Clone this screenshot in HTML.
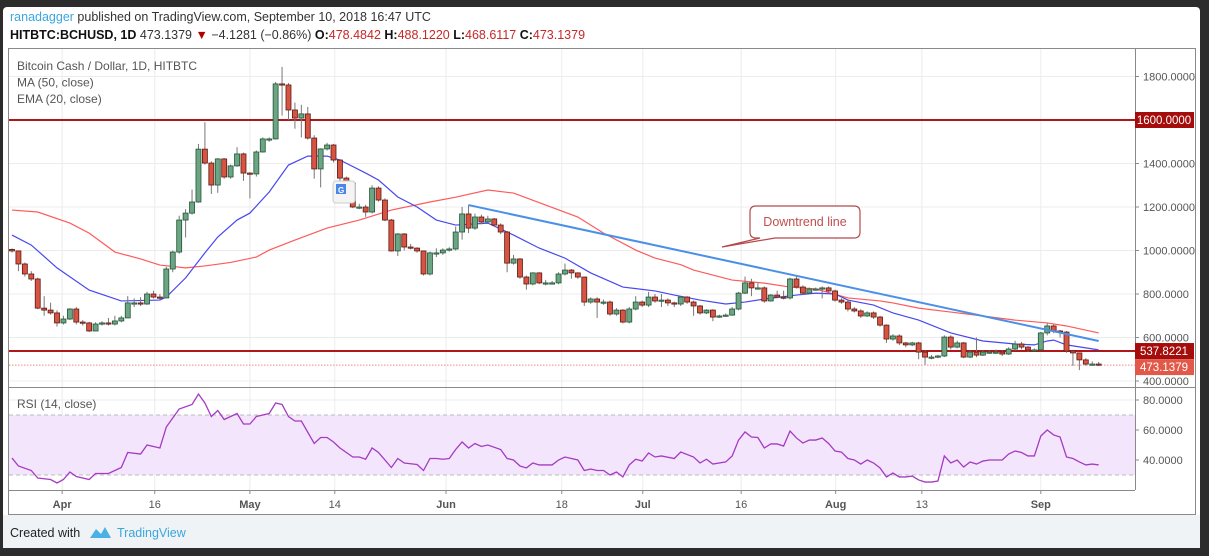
<!DOCTYPE html>
<html><head><meta charset="utf-8">
<style>
html,body{margin:0;padding:0;background:#2c2c2c;width:1209px;height:556px;overflow:hidden;font-family:"Liberation Sans",sans-serif;}
#card{position:absolute;left:3px;top:7px;width:1197px;height:541px;background:#fff;border-radius:4px 4px 0 0;}
#footer{position:absolute;left:3px;top:515px;width:1197px;height:33px;background:#f0f3f6;}
svg{position:absolute;left:0;top:0;}
text{font-family:"Liberation Sans",sans-serif;}
</style></head>
<body>
<div id="card"></div>
<div id="footer"></div>
<svg id="chart" width="1209" height="556"></svg>
<script>
const closes=[998,938,892,869,735,726,713,667,685,731,671,667,630,662,667,662,676,690,759,759,754,800,786,782,915,993,1140,1172,1223,1466,1402,1301,1421,1338,1389,1444,
1356,1352,1453,1513,1513,1766,1761,1646,1609,1628,1517,1375,1467,1485,1416,1333,1310,1200,1200,1177,1287,1232,1140,998,1076,1016,1011,998,892,989,989,1002,1007,1085,
1168,1103,1154,1131,1145,1117,1085,942,961,878,846,897,851,851,851,892,910,897,878,763,777,763,763,708,726,671,731,763,749,786,768,772,759,754,
786,763,745,713,726,694,699,703,731,804,851,828,828,768,795,786,782,869,832,804,823,823,828,814,772,763,731,722,699,713,694,657,593,607,575,
566,575,533,510,510,515,602,556,575,510,533,519,533,533,533,524,547,570,556,543,543,621,653,630,625,538,529,497,478,478,473];
const firstOpen=1005;
const highs=[1010,1000,945,905,875,790,760,725,700,735,740,680,672,670,675,690,700,700,790,780,785,810,815,800,925,1000,1160,1190,1280,1490,1590,1410,1425,1425,1395,1475,
1450,1360,1460,1520,1520,1775,1844,1770,1680,1670,1660,1530,1470,1495,1490,1420,1340,1320,1215,1210,1300,1295,1240,1145,1080,1080,1030,1015,1000,995,1010,1010,1015,1110,
1200,1210,1170,1165,1160,1150,1125,1090,980,965,885,900,900,865,860,900,940,915,900,880,785,785,775,770,735,730,740,790,770,810,800,800,780,765,
790,790,770,750,730,730,705,710,740,810,880,870,850,835,800,815,815,875,880,840,830,830,835,835,820,780,770,740,730,720,720,700,660,615,615,
580,580,580,540,520,520,610,610,585,580,540,600,540,540,545,540,555,585,580,560,550,625,665,660,635,630,540,530,505,490,488];
const lows=[990,905,880,860,730,700,705,650,660,680,660,655,625,628,655,655,655,670,690,740,745,750,780,775,780,900,985,1060,1165,1220,1395,1260,1265,1330,1330,1385,
1320,1240,1340,1450,1500,1510,1620,1600,1560,1520,1510,1330,1290,1460,1405,1320,1300,1195,1190,1155,1170,1225,1135,995,975,1000,1005,990,885,885,970,980,995,1000,
1050,1080,1095,1120,1125,1110,1075,900,935,870,820,840,845,840,845,845,885,870,870,745,755,690,750,700,700,665,665,725,740,740,760,740,745,740,
745,755,700,705,708,675,690,695,700,725,800,790,820,760,765,780,775,775,825,795,800,815,780,800,765,755,720,715,690,695,685,650,575,585,565,
555,560,500,475,500,505,510,545,550,505,505,510,515,525,525,515,520,540,545,535,535,540,610,620,600,530,470,450,470,470,469];
const emaIdx=[0,3,7,12,17,23,24,27,30,32,35,37,40,43,46,49,51,55,57,60,63,66,69,74,78,82,86,90,95,100,103,107,111,114,117,122,125,128,130,134,137,141,146,151,156,159,161,162,164,169];
const emaVals=[1071,1025,920,818,768,772,786,874,989,1062,1140,1172,1269,1393,1434,1434,1416,1356,1324,1246,1200,1140,1117,1126,1071,1011,965,897,832,814,795,772,754,763,777,795,804,800,772,749,713,680,621,584,570,566,584,588,566,543];
const maIdx=[0,4,9,12,16,20,23,27,30,34,38,40,44,49,54,59,65,69,74,78,83,88,92,97,100,104,106,112,117,121,125,130,135,137,141,146,151,156,161,164,169];
const maVals=[1186,1177,1126,1080,993,961,933,920,929,945,970,1002,1048,1103,1140,1186,1223,1245,1278,1264,1209,1154,1080,1002,965,935,910,864,850,832,823,782,768,759,735,717,699,680,667,653,621];
const trendIdx=[71,169];
const trendVals=[1209,584];
const rsiIdx=[0,1,3,4,6,7,8,9,10,12,13,15,17,18,20,21,23,24,25,26,28,29,30,31,32,33,35,36,37,38,40,41,42,43,44,45,47,48,49,50,51,52,53,54,55,56,57,59,60,61,63,64,65,66,67,68,69,70,71,72,73,74,76,77,78,79,80,81,82,84,85,86,88,89,90,
91,92,93,94,95,96,97,98,99,100,101,103,104,106,107,108,109,111,112,113,114,115,116,117,118,119,120,121,122,123,124,125,126,127,128,129,130,131,132,133,134,135,136,137,138,139,140,141,142,143,144,145,146,147,148,149,150,151,152,154,155,156,157,158,159,160,161,162,163,164,165,166,167,168,169];
const rsiVals=[41.3,36,33,28,27,24.7,27,32,29,27,31,31,35,45,44,50,48,62,68,74,77,84,78,69,73,67,71,64,64,69,71,78,77,69,66,66,51,55,55,52,48,45,42,42,40.5,48,45,35,41,38,37,33,41,41,40.5,41,47,52,48,51,49,50,47,41,40,36,34.7,38,36.7,36.7,40,42,40,33,34,
33,33,30,32,28.7,36.7,40.5,39.3,44.7,42,42.7,41,45.3,42,38,40.5,37.3,38.7,42.7,53.3,58.7,55.3,55,48,50.7,50.7,49.3,59.3,54.7,51.3,53.3,53.3,54.7,51,46,45.3,41,40,37.3,40,38,34.7,28.7,31.3,28.7,28.7,29.3,26.7,25.3,25.3,26,42.7,38,40,35.3,38.7,37.3,39.3,40,40,44,46,45,42.7,42.7,56,60,56.7,55.3,42,41,38.7,36.7,37.3,36.7];
const priceTicks=[1800,1400,1200,1000,800,600,400];
const rsiTicks=[80,60,40];
const dateTickDays=[7.8,22.2,37,50.2,67.5,85.5,98.1,113.4,128.1,141.5,160];
const dateTickLabels=["Apr","16","May","14","Jun","18","Jul","16","Aug","13","Sep"];
const dateTickBold=[1,0,1,0,1,0,1,0,1,0,1];
const levels=[1600,537.8221];
const lastPrice=473.1379;

const X0=12, STEP=6.43;
const x=i=>X0+i*STEP;
const y=p=>120+(1600-p)*0.2175;
const ry=v=>400+(80-v)*1.5;
const NS="http://www.w3.org/2000/svg";
const svg=document.getElementById('chart');
function el(tag,attrs,parent){const e=document.createElementNS(NS,tag);for(const k in attrs)e.setAttribute(k,attrs[k]);(parent||svg).appendChild(e);return e;}
function txt(s,attrs,parent){const e=el('text',attrs,parent);e.textContent=s;return e;}

const h1=txt('',{x:10,y:21,'font-size':12.5,fill:'#333'});


const ts1=el('tspan',{fill:'#3aa6dd'},h1);ts1.textContent='ranadagger';
const ts2=el('tspan',{},h1);ts2.textContent=' published on TradingView.com, September 10, 2018 16:47 UTC';
const h2=txt('',{x:10,y:39,'font-size':12.5,fill:'#222'});


[['HITBTC:BCHUSD, 1D','#111','bold'],['  473.1379 ','#333'],['▼','#b00000'],[' −4.1281 (−0.86%) ','#333'],['O:','#111','bold'],['478.4842 ','#c62828'],['H:','#111','bold'],['488.1220 ','#c62828'],['L:','#111','bold'],['468.6117 ','#c62828'],['C:','#111','bold'],['473.1379','#c62828']].forEach(a=>{const t=el('tspan',{fill:a[1]},h2);if(a[2])t.setAttribute('font-weight','bold');t.textContent=a[0];});

const frame=el('rect',{x:8.5,y:48.5,width:1187,height:466,fill:'#fff',stroke:'#8a8a8a'});


const grid=el('g',{stroke:'#ececec','stroke-width':1});


priceTicks.forEach(p=>el('line',{x1:9,x2:1135,y1:y(p),y2:y(p)},grid));
rsiTicks.forEach(v=>el('line',{x1:9,x2:1135,y1:ry(v),y2:ry(v)},grid));
dateTickDays.forEach(d=>el('line',{x1:x(d),x2:x(d),y1:49,y2:490},grid));
el('line',{x1:9,x2:1195,y1:387.5,y2:387.5,stroke:'#8a8a8a'});
el('line',{x1:9,x2:1135,y1:490.5,y2:490.5,stroke:'#8a8a8a'});
el('line',{x1:1135.5,x2:1135.5,y1:49,y2:490,stroke:'#8a8a8a'});

priceTicks.forEach(p=>{
  el('line',{x1:1135,x2:1139,y1:y(p),y2:y(p),stroke:'#8a8a8a'});
  const t=txt(p.toFixed(4),{x:1143,y:y(p)+4,'font-size':11,fill:'#555'});
  
  
});
rsiTicks.forEach(v=>{
  el('line',{x1:1135,x2:1139,y1:ry(v),y2:ry(v),stroke:'#8a8a8a'});
  const t=txt(v.toFixed(4),{x:1143,y:ry(v)+4,'font-size':11,fill:'#555'});
  
  
});
dateTickDays.forEach((d,k)=>{
  el('line',{x1:x(d),x2:x(d),y1:490,y2:494,stroke:'#8a8a8a'});
  const t=txt(dateTickLabels[k],{x:x(d),y:508,'font-size':11,fill:'#555','text-anchor':'middle','font-weight':dateTickBold[k]?'bold':'normal'});
  
  
});

const defs=el('defs',{});
const cp=el('clipPath',{id:'pp'},defs);el('rect',{x:9,y:49,width:1126,height:338},cp);

levels.forEach(L=>{
  const l=el('line',{x1:9,x2:1135,y1:y(L),y2:y(L),stroke:'#b0171a','stroke-width':2});
  
  
});
const lp=el('line',{x1:9,x2:1135,y1:y(lastPrice),y2:y(lastPrice),stroke:'#ef8a7a','stroke-dasharray':'1.5,1.5'});



function poly(idx,vals,color,name,w){
  const p=el('polyline',{points:idx.map((d,k)=>x(d)+','+y(vals[k])).join(' '),fill:'none',stroke:color,'stroke-width':w||1.2,'clip-path':'url(#pp)'});
  
  
}
poly(maIdx,maVals,'#ff5a5a','ma50-line');
poly(emaIdx,emaVals,'#4848f0','ema20-line');

const cg=el('g',{});


closes.forEach((c,i)=>{
  const o=i===0?firstOpen:closes[i-1];
  const up=c>=o;
  const cx=x(i);
  const wick=el('line',{x1:cx,x2:cx,y1:y(highs[i]),y2:y(lows[i]),stroke:'#777','stroke-width':1},cg);
  
  
  const top=y(Math.max(o,c)),bot=y(Math.min(o,c));
  const b=el('rect',{x:cx-2.5,y:top,width:5,height:Math.max(1.2,bot-top),fill:up?'#6ba583':'#d75442',stroke:up?'#225437':'#5b1a13','stroke-width':0.8},cg);
  
  
});

const tl=el('line',{x1:x(trendIdx[0]),y1:y(trendVals[0]),x2:x(trendIdx[1]),y2:y(trendVals[1]),stroke:'#4a90e8','stroke-width':2});



const cgp=el('g',{});


el('path',{d:'M756,206 H854 Q860,206 860,212 V232 Q860,238 854,238 H775 L722,247 L760,238 H756 Q750,238 750,232 V212 Q750,206 756,206 Z',fill:'#fff',stroke:'#b5494c','stroke-width':1.2},cgp);
txt('Downtrend line',{x:805,y:226,'font-size':12.5,fill:'#c0504d','text-anchor':'middle'},cgp);

const gi=el('g',{});


el('rect',{x:333,y:181,width:22,height:22,rx:3,fill:'#f4f4f4',stroke:'#ccc'},gi);
el('rect',{x:336,y:184,width:10,height:10,fill:'#4a86e8'},gi);
txt('G',{x:338,y:193,'font-size':8,fill:'#fff','font-weight':'bold'},gi);

function tag(val,bg,yy,name){
  const g=el('g',{});
  
  
  el('rect',{x:1135,y:yy-8,width:59,height:16,fill:bg},g);
  txt(val,{x:1164,y:yy+4,'font-size':11.5,fill:'#fff','text-anchor':'middle'},g);
}
tag(levels[0].toFixed(4),'#a50d0d',y(levels[0]),'level-1600-label');
tag(levels[1].toFixed(4),'#a50d0d',y(levels[1]),'level-537-label');
tag(lastPrice.toFixed(4),'#e2594a',y(lastPrice)+2,'last-price-label');

[['Bitcoin Cash / Dollar, 1D, HITBTC','series-title'],['MA (50, close)','ma-legend'],['EMA (20, close)','ema-legend']].forEach((a,k)=>{
  const t=txt(a[0],{x:17,y:70+k*16.5,'font-size':12,fill:'#555'});
  
  
});

const band=el('rect',{x:9,y:ry(70),width:1126,height:ry(30)-ry(70),fill:'#f3e6fc'});


[70,30].forEach(v=>el('line',{x1:9,x2:1135,y1:ry(v),y2:ry(v),stroke:'#bbb','stroke-dasharray':'4,3'}));
const rl=el('polyline',{points:rsiIdx.map((d,k)=>x(d)+','+ry(rsiVals[k])).join(' '),fill:'none',stroke:'#a53ac4','stroke-width':1.3});


const rt=txt('RSI (14, close)',{x:17,y:408,'font-size':12,fill:'#555'});



const fg=el('g',{});


txt('Created with',{x:10,y:537,'font-size':12.5,fill:'#222'},fg);
el('path',{d:'M90,538 L96,529 L101,534 L105,527 L111,538 Z',fill:'#4ab0e6'},fg);
txt('TradingView',{x:117,y:537,'font-size':12.5,fill:'#3aa6dd'},fg);
</script>
</body></html>
